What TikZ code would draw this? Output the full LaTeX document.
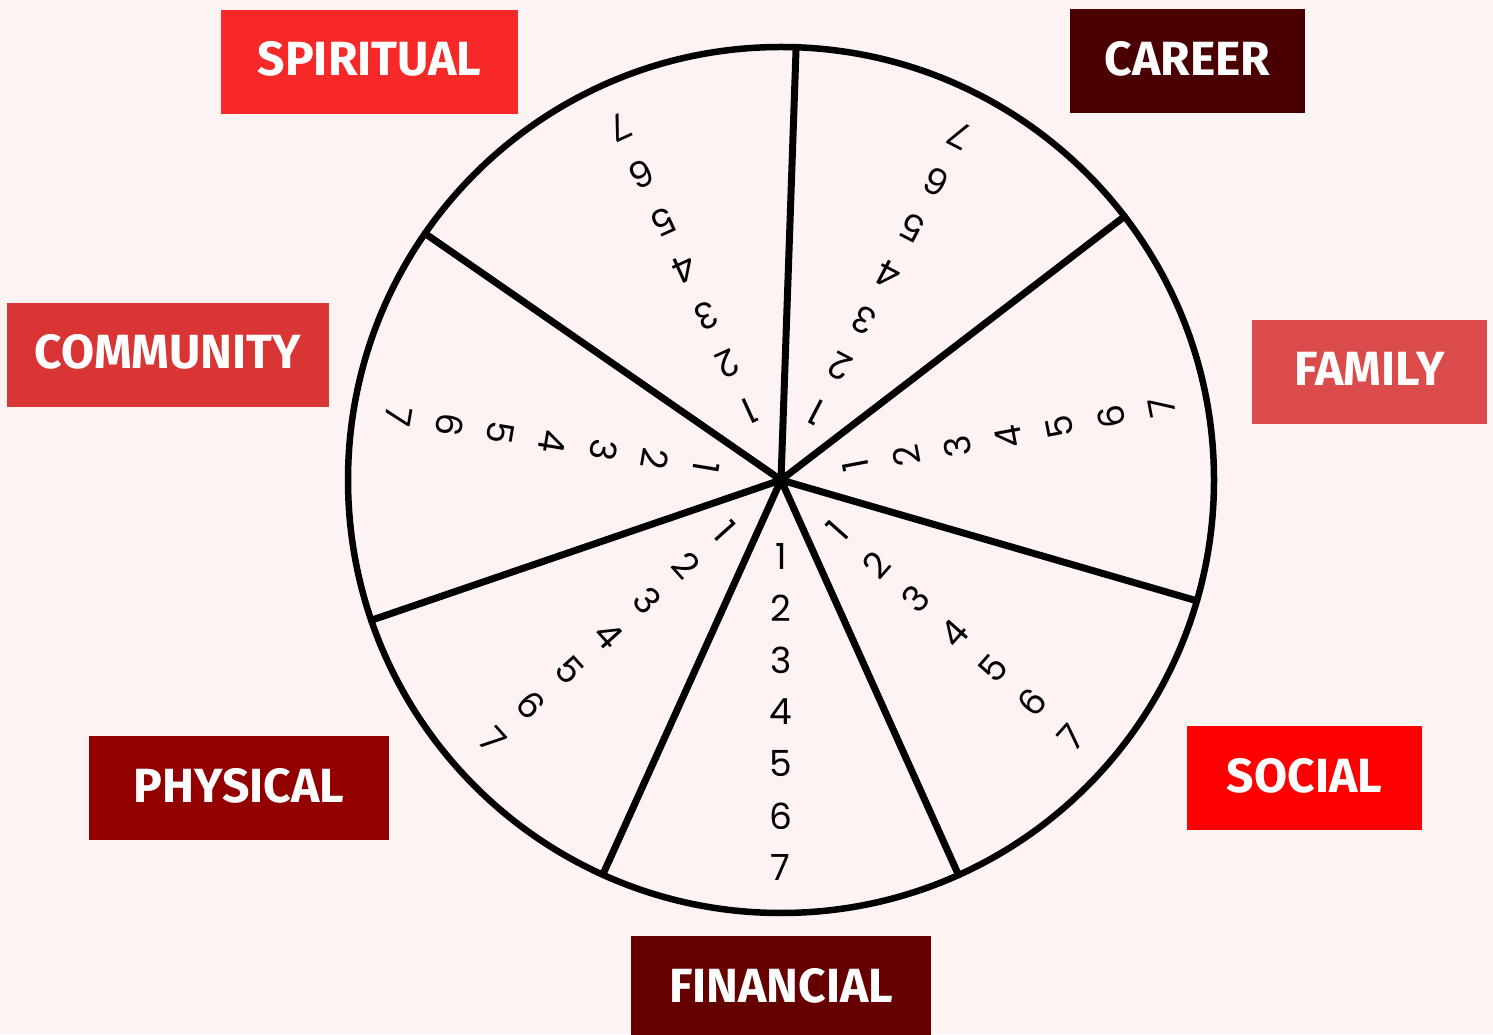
\documentclass[tikz,border=0pt]{standalone}
\usepackage{fontspec}
\setmainfont{Poppins}
\newfontfamily\labelfont{Fira Sans}
\usetikzlibrary{calc}
\definecolor{bg}{HTML}{FDF3F3}
\definecolor{cspiritual}{HTML}{F62828}
\definecolor{ccareer}{HTML}{4A0000}
\definecolor{cfamily}{HTML}{DC4B4B}
\definecolor{ccommunity}{HTML}{DA3535}
\definecolor{csocial}{HTML}{FF0000}
\definecolor{cphysical}{HTML}{930000}
\definecolor{cfinancial}{HTML}{660000}
\begin{document}
\begin{tikzpicture}[x=1pt,y=1pt,
  lab/.style={fill=#1, text=white, font=\labelfont\bfseries\fontsize{48}{48}\selectfont, minimum height=104pt, inner sep=0pt, text height=34pt, text depth=6pt},
  num/.style={font=\fontsize{36}{36}\selectfont, inner sep=0pt},
  spoke/.style={line width=7pt, line cap=round},
  rim/.style={line width=6.5pt, fill=bg}
]
\fill[bg] (0,0) rectangle (1493,1034);
\useasboundingbox (0,0) rectangle (1493,1034);
\coordinate (c) at (781,554);
\foreach \a [count=\i] in {88,37.5,-16.2,-65.8,-114.3,-161.1,145.3}
  \coordinate (s\i) at ($(c)+(\a:433)$);
\draw[rim] (c) circle (433);
\foreach \i in {1,...,7} \draw[spoke] (c) -- (s\i);
% numbers along each sector
\foreach \b [count=\j] in {62.5,10.8,-41.5,-90.05,-138,170.5,114.5}
  \foreach \k in {1,...,7}
    \node[num, rotate=\b+90] (n\j-\k) at ($(c)+(\b:{76+52*(\k-1)})$) {\k};
% labels
\node[lab=cspiritual, minimum width=297pt] (spiritual) at (369.5,972) {SPIRITUAL};
\node[lab=ccareer, minimum width=235pt] (career) at (1187.5,972.5) {CAREER};
\node[lab=cfamily, minimum width=235pt] (family) at (1369.5,662) {FAMILY};
\node[lab=ccommunity, minimum width=322pt] (community) at (168,679) {COMMUNITY};
\node[lab=csocial, minimum width=235pt] (social) at (1304.5,256) {SOCIAL};
\node[lab=cphysical, minimum width=300pt] (physical) at (239,246) {PHYSICAL};
\node[lab=cfinancial, minimum width=300pt] (financial) at (781,46) {FINANCIAL};
\end{tikzpicture}
\end{document}
